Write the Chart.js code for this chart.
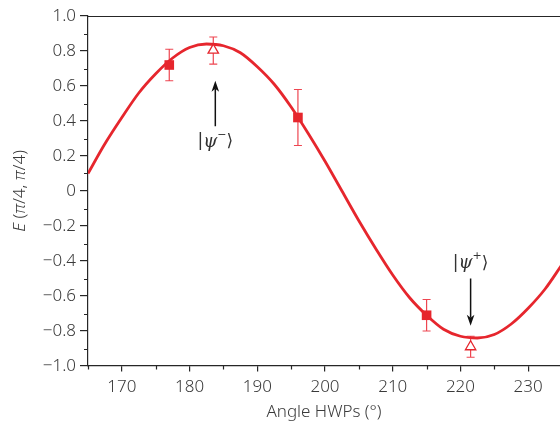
<!DOCTYPE html>
<html><head><meta charset="utf-8">
<script src="https://cdn.jsdelivr.net/npm/chart.js@4.4.0/dist/chart.umd.min.js"></script>
<style>html,body{margin:0;padding:0;background:#fff}#wrap{width:560px;height:426px;position:relative}</style>
</head><body><div id="wrap"><canvas id="c" width="560" height="426"></canvas></div>
<script>
// Fitted curve
const fitAngles = [165,167.5,170,172.5,175,177.5,180,182.5,185,187.5,190,192.5,195,197.5,200,202.5,205,207.5,210,212.5,215,217.5,220,222.5,225,227.5,230,232.5,235];
const fitValues = [0.10,0.27,0.42,0.56,0.67,0.76,0.82,0.84,0.83,0.79,0.71,0.61,0.48,0.33,0.17,0.00,-0.17,-0.33,-0.48,-0.61,-0.71,-0.79,-0.83,-0.84,-0.82,-0.76,-0.67,-0.56,-0.42];
// Measured points (filled squares)
const measAngles = [177,196,215];
const measValues = [0.72,0.42,-0.71];
const measLow = [0.63,0.26,-0.80];
const measHigh = [0.81,0.58,-0.62];
// Bell states (open triangles)
const stateAngles = [183.5,221.5];
const stateValues = [0.805,-0.89];
const stateLow = [0.725,-0.95];
const stateHigh = [0.88,-0.83];
// Axis ticks
const xTicks = [170,180,190,200,210,220,230];
const xMinor = [165,175,185,195,205,215,225];
const yTicks = [-1,-0.8,-0.6,-0.4,-0.2,0,0.2,0.4,0.6,0.8,1];
const yMinor = [-0.9,-0.7,-0.5,-0.3,-0.1,0.1,0.3,0.5,0.7,0.9];
// Annotations
const stateLabels = ['−','+'];
const arrowAngles = [183.8,221.5];
const arrowFrom = [0.37,-0.50];
const arrowTo = [0.63,-0.77];
const labelValues = [0.28,-0.415];

const RED = '#e6262d';
const AX = '#262626';
const TXT = '#3a3a3a';
const FONT = '"Noto Sans", sans-serif';
const FS = 17;

function fmtY(v){
  if (Math.abs(v) < 1e-9) return '0';
  const s = Math.abs(v).toFixed(1);
  return (v < 0 ? '−' : '') + s;
}

const extras = {
  id: 'extras',
  beforeDatasetsDraw(chart){
    const ctx = chart.ctx, xs = chart.scales.x, ys = chart.scales.y;
    ctx.save();
    ctx.strokeStyle = '#ee4651';
    ctx.lineWidth = 1.2;
    function bar(ax, lo, hi){
      const px = xs.getPixelForValue(ax);
      const p1 = ys.getPixelForValue(lo), p2 = ys.getPixelForValue(hi);
      ctx.beginPath();
      ctx.moveTo(px, p1); ctx.lineTo(px, p2);
      ctx.moveTo(px-4, p1); ctx.lineTo(px+4, p1);
      ctx.moveTo(px-4, p2); ctx.lineTo(px+4, p2);
      ctx.stroke();
    }
    measAngles.forEach((a,i)=>bar(a, measLow[i], measHigh[i]));
    stateAngles.forEach((a,i)=>bar(a, stateLow[i], stateHigh[i]));
    ctx.restore();
  },
  afterDraw(chart){
    const ctx = chart.ctx, xs = chart.scales.x, ys = chart.scales.y;
    const a = chart.chartArea;
    ctx.save();
    ctx.strokeStyle = AX;
    ctx.lineWidth = 1.2;
    // top border
    ctx.beginPath();
    ctx.moveTo(a.left, a.top + 0.5); ctx.lineTo(a.right, a.top + 0.5);
    ctx.stroke();
    // minor ticks
    ctx.beginPath();
    xMinor.forEach(v=>{
      const px = Math.round(xs.getPixelForValue(v)) + 0.5;
      ctx.moveTo(px, a.bottom); ctx.lineTo(px, a.bottom + 3.5);
    });
    yMinor.forEach(v=>{
      const py = Math.round(ys.getPixelForValue(v)) + 0.5;
      ctx.moveTo(a.left, py); ctx.lineTo(a.left - 4, py);
    });
    ctx.stroke();
    // arrows
    ctx.strokeStyle = '#111';
    ctx.fillStyle = '#111';
    ctx.lineWidth = 1.5;
    arrowAngles.forEach((ang,i)=>{
      const px = xs.getPixelForValue(ang);
      const y1 = ys.getPixelForValue(arrowFrom[i]);
      const y2 = ys.getPixelForValue(arrowTo[i]);
      const dir = y2 < y1 ? -1 : 1;
      ctx.beginPath();
      ctx.moveTo(px, y1); ctx.lineTo(px, y2 - dir*8);
      ctx.stroke();
      ctx.beginPath();
      ctx.moveTo(px, y2);
      ctx.lineTo(px - 3.8, y2 - dir*11);
      ctx.lineTo(px, y2 - dir*8);
      ctx.lineTo(px + 3.8, y2 - dir*11);
      ctx.closePath();
      ctx.fill();
      // label |psi^±>
      const ly = ys.getPixelForValue(labelValues[i]);
      const parts = [
        {t:'|', f:'17px "DejaVu Sans", sans-serif', dy:0},
        {t:'ψ', f:'italic 18px "DejaVu Serif", serif', dy:0},
        {t:stateLabels[i], f:'11px "DejaVu Sans", sans-serif', dy:-7},
        {t:'⟩', f:'17px "DejaVu Sans", sans-serif', dy:0}
      ];
      let w = 0;
      parts.forEach(p=>{ctx.font=p.f; p.w = ctx.measureText(p.t).width; w += p.w;});
      let x = px - w/2;
      ctx.fillStyle = '#333';
      ctx.textBaseline = 'middle';
      ctx.textAlign = 'left';
      parts.forEach(p=>{ctx.font=p.f; ctx.fillText(p.t, x, ly + p.dy); x += p.w;});
      ctx.fillStyle = '#111';
    });
    // y title
    ctx.fillStyle = TXT;
    ctx.save();
    ctx.translate(20, (a.top + a.bottom)/2);
    ctx.rotate(-Math.PI/2);
    const tparts = [['E','italic'],[' (','normal'],['π','italic'],['/4, ','normal'],['π','italic'],['/4)','normal']];
    let tw = 0;
    tparts.forEach(p=>{ctx.font = p[1]+' 300 '+FS+'px '+FONT; p.w = ctx.measureText(p[0]).width; tw += p.w;});
    let tx = -tw/2;
    ctx.textBaseline = 'middle';
    ctx.textAlign = 'left';
    tparts.forEach(p=>{ctx.font = p[1]+' 300 '+FS+'px '+FONT; ctx.fillText(p[0], tx, 0); tx += p.w;});
    ctx.restore();
    // x title
    ctx.font = '300 '+FS+'px ' + FONT;
    ctx.textAlign = 'center';
    ctx.textBaseline = 'middle';
    ctx.fillText('Angle HWPs (°)', (a.left + a.right)/2, 412);
    ctx.restore();
  }
};

new Chart(document.getElementById('c'), {
  type: 'scatter',
  data: {
    datasets: [
      {
        label: 'measured',
        data: measAngles.map((a,i)=>({x:a, y:measValues[i]})),
        pointStyle: 'rect',
        pointRadius: 6.8,
        backgroundColor: RED,
        borderWidth: 0,
        order: 1
      },
      {
        label: 'states',
        data: stateAngles.map((a,i)=>({x:a, y:stateValues[i]})),
        pointStyle: 'triangle',
        pointRadius: 6,
        backgroundColor: '#ffffff',
        borderColor: RED,
        borderWidth: 1.3,
        order: 2
      },
      {
        type: 'line',
        label: 'fit',
        data: fitAngles.map((a,i)=>({x:a, y:fitValues[i]})),
        borderColor: RED,
        borderWidth: 2.8,
        pointRadius: 0,
        cubicInterpolationMode: 'monotone',
        fill: false,
        order: 3
      }
    ]
  },
  options: {
    responsive: false,
    animation: false,
    devicePixelRatio: 1,
    layout: { autoPadding: false, padding: { top: 16, right: 0, left: 0, bottom: 0 } },
    plugins: { legend: { display: false }, tooltip: { enabled: false } },
    scales: {
      x: {
        type: 'linear', min: 165, max: 234.7,
        afterBuildTicks: s => { s.ticks = xTicks.map(v=>({value:v})); },
        afterFit: s => { s.height = 60; s.paddingRight = 0; s.paddingLeft = 0; },
        grid: { drawOnChartArea: false, drawTicks: true, tickLength: 5.5, color: AX, lineWidth: 1.2 },
        border: { display: true, color: AX, width: 1.2 },
        ticks: { color: TXT, font: { family: FONT, size: FS, weight: 300 }, padding: 5, maxRotation: 0 }
      },
      y: {
        type: 'linear', min: -1, max: 1,
        afterBuildTicks: s => { s.ticks = yTicks.map(v=>({value:v})); },
        afterFit: s => { s.width = 88; s.paddingTop = 0; s.paddingBottom = 0; },
        grid: { drawOnChartArea: false, drawTicks: true, tickLength: 8, color: AX, lineWidth: 1.2 },
        border: { display: true, color: AX, width: 1.2 },
        ticks: { color: TXT, font: { family: FONT, size: FS, weight: 300 }, padding: 4, callback: v => fmtY(v) }
      }
    }
  },
  plugins: [extras]
});
</script></body></html>
